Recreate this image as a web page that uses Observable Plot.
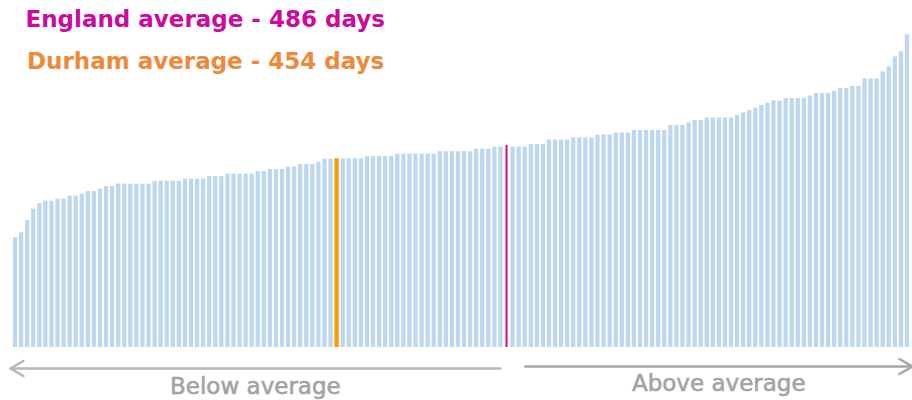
<!DOCTYPE html>
<html>
<head>
<meta charset="utf-8">
<script src="https://cdn.jsdelivr.net/npm/d3@7"></script>
<script src="https://cdn.jsdelivr.net/npm/@observablehq/plot@0.6"></script>
<style>
  html, body { margin: 0; padding: 0; background: #ffffff; }
  #chart svg { display: block; }
</style>
</head>
<body>
<div id="chart"></div>
<script>
// Days per area, ranked lowest to highest (England average bar included at its rank)
const days = [
  264, 276, 305, 333, 346, 352, 352, 357, 357, 364,
  364, 369, 375, 375, 381, 387, 387, 393, 393, 393,
  393, 393, 393, 400, 400, 400, 400, 400, 405, 405,
  405, 405, 411, 411, 411, 417, 417, 417, 417, 417,
  423, 423, 428, 428, 428, 434, 434, 440, 440, 440,
  446, 453, 453, 454, 454, 454, 454, 454, 459, 459,
  459, 459, 459, 465, 465, 465, 465, 465, 465, 465,
  471, 471, 471, 471, 471, 471, 477, 477, 477, 482,
  482, 486, 482, 482, 482, 488, 488, 488, 499, 499,
  499, 499, 504, 504, 504, 504, 511, 511, 511, 516,
  516, 516, 522, 522, 522, 522, 522, 522, 534, 534,
  534, 540, 546, 546, 552, 552, 552, 552, 552, 558,
  564, 570, 576, 582, 587, 593, 593, 599, 599, 599,
  599, 605, 611, 611, 611, 616, 623, 623, 628, 628,
  646, 646, 646, 663, 675, 699, 711, 752
];
const durhamRank = 54;   // 1-based position of the Durham bar
const englandRank = 82;  // 1-based position of the England average bar
const labels = ["England average - 486 days", "Durham average - 454 days"];
const arrowLabels = ["Below average", "Above average"];

const kinds = ["Other", "Durham", "England"];
const colors = ["#bdd7ee", "#ff9900", "#cc0a9c"];

const data = days.map((d, i) => ({
  i,
  days: d,
  kind: i === durhamRank - 1 ? "Durham" : i === englandRank - 1 ? "England" : "Other"
}));

const arrows = [
  {label: arrowLabels[0], from: englandRank - 1.6, to: -0.35},
  {label: arrowLabels[1], from: englandRank + 2.5, to: days.length + 0.3}
];
arrows.forEach(a => a.mid = (a.from + a.to) / 2);

const font = "DejaVu Sans, Verdana, sans-serif";

const chart = Plot.plot({
  width: 912,
  height: 400,
  marginLeft: 12,
  marginRight: 2,
  marginTop: 31,
  marginBottom: 53,
  style: {fontFamily: font, background: "#ffffff"},
  x: {domain: [0, days.length], axis: null},
  y: {domain: [0, 760], axis: null},
  color: {domain: kinds, range: colors},
  marks: [
    Plot.rectY(data.filter(d => d.kind !== "England"), {
      x1: "i", x2: d => d.i + 1, y: "days", fill: "kind",
      insetLeft: 0.9, insetRight: 0.9
    }),
    Plot.rectY(data.filter(d => d.kind === "England"), {
      x1: "i", x2: d => d.i + 1, y: "days", fill: "kind",
      insetLeft: 2, insetRight: 2
    }),
    Plot.text([labels[0]], {
      text: d => d, frameAnchor: "top-left", textAnchor: "start", lineAnchor: "bottom",
      dx: 13, dy: -4.5, fill: colors[2], fontSize: 23, fontWeight: "bold"
    }),
    Plot.text([labels[1]], {
      text: d => d, frameAnchor: "top-left", textAnchor: "start", lineAnchor: "bottom",
      dx: 14.5, dy: 37, fill: "#f0883a", fontSize: 23, fontWeight: "bold"
    }),
    Plot.arrow([arrows[0]], {
      x1: "from", x2: "to", y1: 0, y2: 0, dy: 21,
      stroke: "#b8b8b8", strokeWidth: 2.5, headLength: 9
    }),
    Plot.arrow([arrows[1]], {
      x1: "from", x2: "to", y1: 0, y2: 0, dy: 19,
      stroke: "#a8a8a8", strokeWidth: 2.5, headLength: 9
    }),
    Plot.text([arrows[0]], {
      x: "mid", y: 0, text: "label", lineAnchor: "bottom", dy: 46,
      fill: "#a3a3a3", stroke: "#a3a3a3", strokeWidth: 0.6, fontSize: 23
    }),
    Plot.text([arrows[1]], {
      x: "mid", y: 0, text: "label", lineAnchor: "bottom", dy: 43,
      fill: "#a3a3a3", stroke: "#a3a3a3", strokeWidth: 0.6, fontSize: 23
    })
  ]
});
document.getElementById("chart").appendChild(chart);
</script>
</body>
</html>
